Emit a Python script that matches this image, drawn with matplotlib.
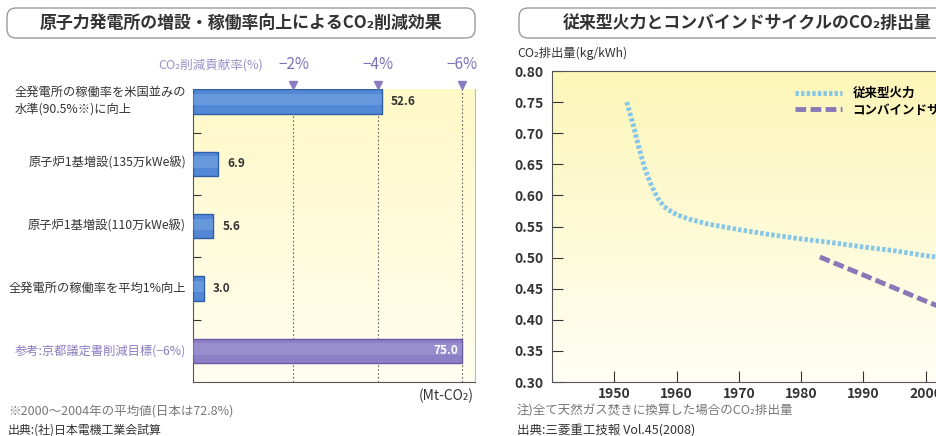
import matplotlib.pyplot as plt
import numpy as np
from matplotlib.patches import FancyBboxPatch
from matplotlib.transforms import IdentityTransform, blended_transform_factory

plt.rcParams['font.family'] = ['Noto Sans CJK JP', 'DejaVu Sans']

# left panel: CO2 reduction by nuclear measures (Mt-CO2)
labels = ['全発電所の稼働率を米国並みの\n水準(90.5%※)に向上',
          '原子炉1基増設(135万kWe級)',
          '原子炉1基増設(110万kWe級)',
          '全発電所の稼働率を平均1%向上',
          '参考:京都議定書削減目標(−6%)']
reduction = [52.6, 6.9, 5.6, 3.0, 75.0]
pct_labels = ['−2%', '−4%', '−6%']
pct_pos = [28.0, 51.5, 75.0]

# right panel: CO2 emission per kWh
conv_years = [1952, 1953, 1954, 1955, 1956, 1957, 1958, 1959, 1960, 1962,
              1965, 1970, 1975, 1980, 1985, 1990, 1995, 2000, 2005]
conv_vals = [0.750, 0.715, 0.675, 0.640, 0.615, 0.595, 0.582, 0.575, 0.569, 0.562,
             0.554, 0.545, 0.537, 0.530, 0.524, 0.517, 0.511, 0.503, 0.497]
cc_years = [1983, 1990, 2000, 2005]
cc_vals = [0.501, 0.472, 0.430, 0.410]

W, H = 937, 436
fig = plt.figure(figsize=(W / 100, H / 100), dpi=100)


def px(x, y):
    return x / W, 1 - y / H


def rect(l, t, r, b):
    return [l / W, 1 - b / H, (r - l) / W, (b - t) / H]


def title_box(x0, x1, text, tx):
    box = FancyBboxPatch((x0, H - 38), x1 - x0, 30,
                         boxstyle='round,pad=0,rounding_size=9',
                         transform=IdentityTransform(), facecolor='white',
                         edgecolor='#9a9a9a', linewidth=1.0)
    fig.add_artist(box)
    fig.text(*px(tx, 23), text, fontsize=12.2, weight='bold', color='#333333',
             va='center', ha='left')


def yellow_bg(ax, top, bottom):
    grad = np.linspace(0, 1, 256)[:, None]
    c0 = np.array(top)
    c1 = np.array(bottom)
    img = c0[None, None, :] * (1 - grad[:, :, None]) + c1[None, None, :] * grad[:, :, None]
    ax.imshow(img, extent=[0, 1, 0, 1], transform=ax.transAxes, aspect='auto',
              zorder=0)


# ---------------- left panel ----------------
title_box(7, 475, '原子力発電所の増設・稼働率向上によるCO₂削減効果', 40)

ax1 = fig.add_axes(rect(193, 89, 475, 382))
yellow_bg(ax1, (1.0, 0.975, 0.78), (1.0, 0.995, 0.94))
ypos = np.arange(len(reduction))
colors = ['#5288d6'] * 4 + ['#8c80c6']
edges = ['#2f5ea8'] * 4 + ['#6a5aa8']
ax1.barh(ypos, reduction, height=0.39, color=colors, edgecolor=edges,
         linewidth=1, zorder=3)
# soft highlight through the middle of each bar
ax1.barh(ypos - 0.03, reduction, height=0.18,
         color=['#8fb6ea'] * 4 + ['#b0a6dc'], linewidth=0, zorder=3.5, alpha=0.35)
ax1.set_xlim(0, 78.6)
ax1.set_ylim(4.5, -0.2)
ax1.set_xticks([])
ax1.set_yticks(ypos[:-1] + 0.5)
ax1.set_yticklabels([])
ax1.tick_params(axis='y', direction='in', length=6, color='#333333')
for s in ax1.spines.values():
    s.set_color('#555555')
    s.set_linewidth(0.8)
ax1.spines['top'].set_visible(False)
ax1.spines['right'].set_color('#bbbbbb')

trans = blended_transform_factory(ax1.transData, ax1.transAxes)
for xv, lab in zip(pct_pos, pct_labels):
    ax1.axvline(xv, color='#666666', linestyle=(0, (1.5, 2)), linewidth=0.8, zorder=2)
    ax1.plot([xv], [1.012], marker='v', markersize=6, color='#8a7cc0',
             transform=trans, clip_on=False, zorder=5)
    ax1.text(xv, 1.082, lab, transform=trans, ha='center', va='center',
             fontsize=11, color='#7b70b8')
fig.text(*px(263, 65), 'CO₂削減貢献率(%)', ha='right', va='center',
         fontsize=9, color='#9a90c8')

for y, v in zip(ypos[:-1], reduction[:-1]):
    ax1.text(v + 2.6, y, f'{v:.1f}', va='center', ha='left', fontsize=8.5,
             weight='bold', color='#333333', zorder=6)
ax1.text(reduction[-1] - 1.2, ypos[-1], f'{reduction[-1]:.1f}', va='center',
         ha='right', fontsize=8.5, weight='bold', color='white', zorder=6)

label_y = [101, 163, 226, 288, 351]
for i, (lab, ly) in enumerate(zip(labels, label_y)):
    fig.text(*px(186, ly), lab, ha='right', va='center', multialignment='left',
             fontsize=8.8, color='#8a7cc0' if i == 4 else '#333333',
             linespacing=1.4)

fig.text(*px(474, 396), '(Mt-CO₂)', ha='right', va='center', fontsize=10,
         color='#333333')
fig.text(*px(8, 412), '※2000〜2004年の平均値(日本は72.8%)', ha='left',
         va='center', fontsize=9, color='#777777')
fig.text(*px(8, 430), '出典:(社)日本電機工業会試算', ha='left', va='center',
         fontsize=8.6, color='#333333')

# ---------------- right panel ----------------
title_box(519, 1000, '従来型火力とコンバインドサイクルのCO₂排出量', 563)

ax2 = fig.add_axes(rect(552, 71, 988, 382))
yellow_bg(ax2, (0.99, 0.965, 0.72), (1.0, 0.998, 0.96))
ax2.plot(conv_years, conv_vals, color='#86c6e6', linewidth=3.5,
         linestyle=(0, (0.7, 0.45)), label='従来型火力', zorder=3)
ax2.plot(cc_years, cc_vals, color='#8878b8', linewidth=3.5,
         linestyle=(0, (2.2, 0.9)), label='コンバインドサイクル', zorder=3)
ax2.set_xlim(1940, 2010)
ax2.set_ylim(0.30, 0.80)
ax2.set_xticks([1950, 1960, 1970, 1980, 1990, 2000])
ax2.set_yticks(np.arange(0.30, 0.801, 0.05))
ax2.yaxis.set_major_formatter(plt.FormatStrFormatter('%.2f'))
ax2.tick_params(axis='both', direction='in', length=8, color='#333333',
                labelsize=10, labelcolor='#333333')
ax2.tick_params(axis='y', pad=6)
for t in ax2.get_xticklabels() + ax2.get_yticklabels():
    t.set_fontweight('bold')
for s in ax2.spines.values():
    s.set_color('#555555')
    s.set_linewidth(0.8)
ax2.spines['right'].set_visible(False)
ax2.legend(loc='upper left', bbox_to_anchor=px(795, 87),
           bbox_transform=fig.transFigure, frameon=False,
           handlelength=3.8, borderpad=0, borderaxespad=0, labelspacing=0.3,
           prop={'weight': 'bold', 'size': 9})

fig.text(*px(517, 53), 'CO₂排出量(kg/kWh)', ha='left', va='center',
         fontsize=8.8, color='#333333')
fig.text(*px(517, 411), '注)全て天然ガス焚きに換算した場合のCO₂排出量',
         ha='left', va='center', fontsize=9, color='#777777')
fig.text(*px(517, 430), '出典:三菱重工技報 Vol.45(2008)', ha='left',
         va='center', fontsize=9, color='#333333')

fig.savefig('out.png', dpi=100)
